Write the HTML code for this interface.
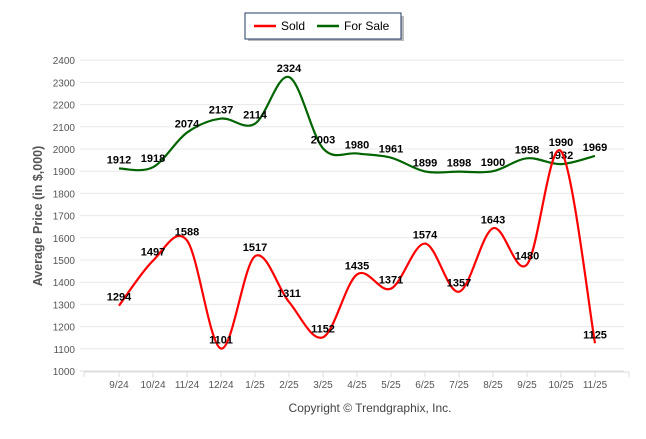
<!DOCTYPE html>
<html><head><meta charset="utf-8"><style>
body{margin:0;background:#fff;width:646px;height:434px;overflow:hidden;font-family:"Liberation Sans",Arial,sans-serif}
</style></head><body>
<svg width="646" height="434" xmlns="http://www.w3.org/2000/svg">
<g>
<rect x="248" y="16" width="156" height="25" fill="#bbb"/>
<rect x="245" y="13" width="156" height="26" fill="#fff" stroke="#1f3864" stroke-width="1"/>
<line x1="254" y1="26" x2="276" y2="26" stroke="#f00" stroke-width="2.5"/>
<text x="281" y="30" font-size="12" fill="#000">Sold</text>
<line x1="317" y1="26" x2="339" y2="26" stroke="#006400" stroke-width="2.5"/>
<text x="344" y="30" font-size="12" fill="#000">For Sale</text>
</g>
<text transform="translate(42,216) rotate(-90)" text-anchor="middle" font-size="12.5" font-weight="bold" fill="#555">Average Price (in $,000)</text>
<text x="370" y="412" text-anchor="middle" font-size="12" fill="#444">Copyright © Trendgraphix, Inc.</text>
<g id="grid"></g><g id="plot"></g>
</svg>
<script>
const categories=["9/24","10/24","11/24","12/24","1/25","2/25","3/25","4/25","5/25","6/25","7/25","8/25","9/25","10/25","11/25"];
const soldValues=[1294,1497,1588,1101,1517,1311,1152,1435,1371,1574,1357,1643,1480,1990,1125];
const forSaleValues=[1912,1918,2074,2137,2114,2324,2003,1980,1961,1899,1898,1900,1958,1932,1969];
const yTicks=[1000,1100,1200,1300,1400,1500,1600,1700,1800,1900,2000,2100,2200,2300,2400];
const NS="http://www.w3.org/2000/svg";
const X0=119,DX=34,Y0=371,YK=22.2/100;
function xs(i){return X0+i*DX;}
function ys(v){return Y0-(v-1000)*YK;}
const grid=document.getElementById('grid'),plot=document.getElementById('plot');
function mk(tag,attrs,parent){const e=document.createElementNS(NS,tag);for(const k in attrs)e.setAttribute(k,attrs[k]);parent.appendChild(e);return e;}
yTicks.forEach(t=>{
 const l=mk('line',{x1:80,x2:624,y1:ys(t),y2:ys(t),stroke:t===1000?'#ddd':'#e8e8e8','stroke-width':1},grid);
 
 
 const tx=mk('text',{x:75,y:ys(t)+4,'text-anchor':'end','font-size':10,fill:'#555'},grid);
 tx.textContent=t;
 
 
});
mk('line',{x1:84,x2:629,y1:Y0+1,y2:Y0+1,stroke:'#ddd'},grid);
mk('line',{x1:84,x2:84,y1:Y0+1,y2:Y0+6,stroke:'#ddd'},grid);
mk('line',{x1:629,x2:629,y1:Y0+1,y2:Y0+6,stroke:'#ddd'},grid);
categories.forEach((c,i)=>{
 mk('line',{x1:xs(i),x2:xs(i),y1:Y0+1,y2:Y0+6,stroke:'#ddd'},grid);
 const tx=mk('text',{x:xs(i),y:Y0+17,'text-anchor':'middle','font-size':10,fill:'#555'},grid);
 tx.textContent=c;
 
 
});
function path(vals){
 const p=vals.map((v,i)=>[xs(i),ys(v)]);
 let d='M'+p[0][0]+','+p[0][1];
 for(let i=0;i<p.length-1;i++){
  const a=p[Math.max(0,i-1)],b=p[i],c=p[i+1],e=p[Math.min(p.length-1,i+2)];
  const c1=[b[0]+(c[0]-a[0])/6,b[1]+(c[1]-a[1])/6];
  const c2=[c[0]-(e[0]-b[0])/6,c[1]-(e[1]-b[1])/6];
  d+=' C'+c1[0]+','+c1[1]+' '+c2[0]+','+c2[1]+' '+c[0]+','+c[1];
 }
 return d;
}
function series(vals,color,name){
 const pth=mk('path',{d:path(vals),fill:'none',stroke:color,'stroke-width':2.2},plot);
 
 
 vals.forEach((v,i)=>{
  const tx=mk('text',{x:xs(i),y:ys(v)-5,'text-anchor':'middle','font-size':11,'font-weight':'bold',fill:'#000'},plot);
  tx.textContent=v;
  
  
 });
}
series(forSaleValues,'#006400','for-sale');
series(soldValues,'#f00','sold');
</script>
</body></html>
